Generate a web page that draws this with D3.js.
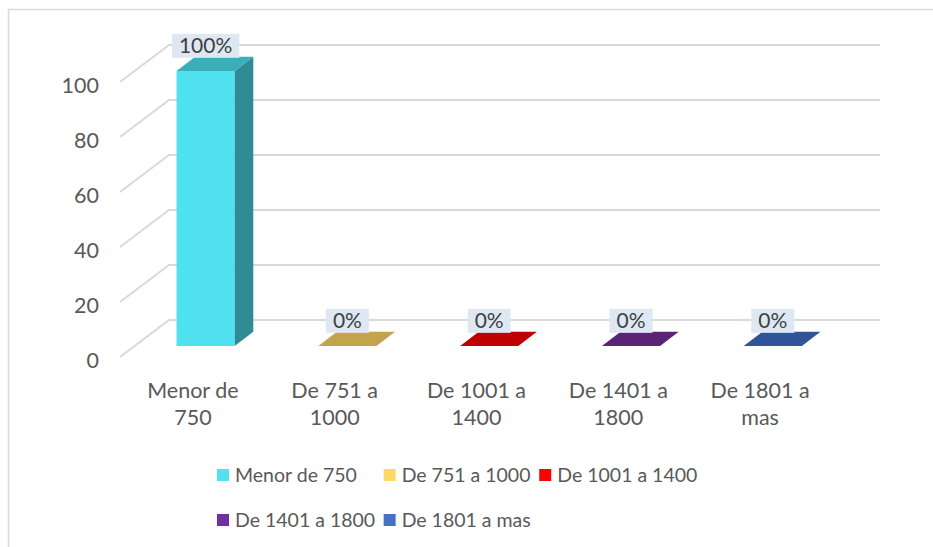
<!DOCTYPE html>
<html><head><meta charset="utf-8">
<script src="https://cdn.jsdelivr.net/npm/d3@7"></script>
<style>body{margin:0;background:#fff;} text{font-family:Lato,"Open Sans",sans-serif;}</style>
</head><body><svg id="c" width="933" height="547"></svg>
<script>
const categories = ["Menor de 750","De 751 a 1000","De 1001 a 1400","De 1401 a 1800","De 1801 a mas"];
const axisLabels = [["Menor de","750"],["De 751 a","1000"],["De 1001 a","1400"],["De 1401 a","1800"],["De 1801 a","mas"]];
const values = [100,0,0,0,0];
const valueLabels = ["100%","0%","0%","0%","0%"];
const yTicks = [0,20,40,60,80,100];
const frontColors = ["#50e2ef","#ffd966","#ff0000","#7030a0","#4472c4"];
const topColors = ["#3aaeb9","#c4a44a","#c00000","#5b2378","#2f5597"];
const sideColors = ["#2f8b94","#a88a3a","#a00000","#4a1c63","#264a80"];

const svg = d3.select("#c");
const DX = 49, DY = 37;
const x = d3.scaleBand().domain(categories).range([120, 829]);
const y = d3.scaleLinear().domain([0,100]).range([357, 82]);
const z0 = 0.3, z1 = 0.68, bw = 0.41;
const txtCol = "#595959";
const fsAxis = 21.5, fsLegend = 19.5, fsData = 21;

// border
svg.append("rect").attr("x",8.5).attr("y",9.5).attr("width",940).attr("height",560)
  .attr("fill","none").attr("stroke","#d9d9d9").attr("stroke-width",1.5);

// gridlines
svg.append("g").selectAll("path").data(yTicks).join("path")
  .attr("d", t => `M${x.range()[0]},${y(t)} L${x.range()[0]+DX},${y(t)-DY} L${x.range()[1]+DX+2},${y(t)-DY}`)
  .attr("fill","none").attr("stroke","#d9d9d9").attr("stroke-width",2);

// y tick labels
svg.append("g").selectAll("text").data(yTicks).join("text")
  .attr("x",99).attr("y", t => y(t)+3).attr("dy","0.35em").attr("text-anchor","end")
  .attr("font-size",fsAxis).attr("fill",txtCol).text(d=>d);

// bars
const bars = svg.append("g").selectAll("g").data(categories).join("g");
bars.each(function(c,i){
  const g = d3.select(this);
  const cx = x(c) + x.bandwidth()/2;
  const w = x.bandwidth()*bw;
  const xl = cx - w/2, xr = cx + w/2;
  const v = values[i];
  const yb = y(0), yt = y(v);
  const P = (px,py,z) => [px + z*DX, py - z*DY];
  const poly = pts => "M" + pts.map(p=>p.join(",")).join("L") + "Z";
  if (v > 0) {
    g.append("path").attr("d", poly([P(xl,yb,z0),P(xr,yb,z0),P(xr,yt,z0),P(xl,yt,z0)])).attr("fill",frontColors[i]);
    g.append("path").attr("d", poly([P(xr,yb,z0),P(xr,yb,z1),P(xr,yt,z1),P(xr,yt,z0)])).attr("fill",sideColors[i]);
  }
  g.append("path").attr("d", poly([P(xl,yt,z0),P(xr,yt,z0),P(xr,yt,z1),P(xl,yt,z1)])).attr("fill",topColors[i]);

  const lx = cx + z0*DX;
  const lyBottom = yt - z1*DY + 1;
  const t = g.append("text").attr("x",lx).attr("y",lyBottom-12).attr("dy","0.35em")
    .attr("text-anchor","middle").attr("font-size",fsData).attr("fill","#404040").text(valueLabels[i]);
  const tw = t.node().getComputedTextLength();
  g.insert("rect","text:last-of-type").attr("x",lx - tw/2 - 7).attr("y",lyBottom-24)
    .attr("width",tw+14).attr("height",24).attr("fill","#dee8f3");
});

// category labels
svg.append("g").selectAll("text").data(categories).join("text")
  .attr("y",390).attr("text-anchor","middle")
  .attr("font-size",fsAxis).attr("fill",txtCol)
  .each(function(c,i){
    d3.select(this).selectAll("tspan").data(axisLabels[i]).join("tspan")
      .attr("x", x(c)+x.bandwidth()/2 + 2).attr("dy",(d,j)=> j===0? "0.35em":"1.28em").text(d=>d);
  });

// legend (grid layout: 3 columns)
const cols = 3, sw = 12, gapT = 6, colGap = 8.5;
const lg = svg.append("g");
const widths = categories.map(c => {
  const t = lg.append("text").attr("font-size",fsLegend).text(c);
  const w = t.node().getComputedTextLength(); t.remove(); return w;
});
const colW = d3.range(cols).map(ci => d3.max(categories.map((_,i)=>i).filter(i=>i%cols===ci).map(i=>widths[i])));
let colX = [217];
for (let ci=1; ci<cols; ci++) colX.push(colX[ci-1] + sw + gapT + colW[ci-1] + colGap);
categories.forEach((c,i)=>{
  const ci = i%cols, ri = Math.floor(i/cols);
  const ly = 475 + ri*45;
  lg.append("rect").attr("x",colX[ci]).attr("y",ly-6).attr("width",sw).attr("height",sw).attr("fill",frontColors[i]);
  lg.append("text").attr("x",colX[ci]+sw+gapT).attr("y",ly).attr("dy","0.35em")
    .attr("font-size",fsLegend).attr("fill",txtCol).text(c);
});
</script></body></html>
